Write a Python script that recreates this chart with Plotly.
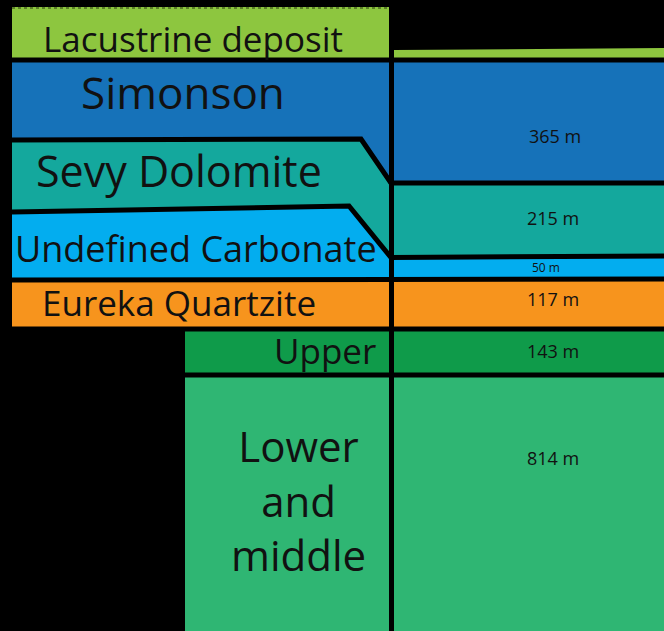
import plotly.graph_objects as go

# ---------------- data ----------------
formations = ["Lacustrine deposit", "Simonson", "Sevy Dolomite", "Undefined Carbonate",
              "Eureka Quartzite", "Upper", "Lower and middle"]
thickness_m = [None, 365, 215, 50, 117, 143, 814]
colors = ["#8dc63f", "#1672b9", "#14a89d", "#03adef", "#f7941d", "#0f9b4a", "#2fb673"]

# right (measured) column: top of each unit (drawing depth units), base of column
right_top_left = [50, 60, 183, 258, 280, 329, 375]
right_top_right = [48, 60, 183, 256, 279, 329, 375]
column_base = 631

# left (schematic) column outlines: x, y vertex lists per unit
left_x = [
    [12, 389, 389, 12],
    [12, 389, 389, 361, 12],
    [12, 361, 389, 389, 349, 12],
    [12, 349, 389, 389, 12],
    [12, 389, 389, 12],
    [185, 389, 389, 185],
    [185, 389, 389, 185],
]
left_y = [
    [7, 7, 60, 60],
    [60, 60, 184, 139, 140],
    [140, 139, 184, 258, 206, 212],
    [212, 206, 258, 280, 280],
    [280, 280, 329, 329],
    [329, 329, 375, 375],
    [375, 375, 631, 631],
]

# boundary lines (left part joined to the right column)
boundaries_x = [
    [12, 389], [394, 664],
    [12, 361, 391, 664],
    [12, 349, 391, 664],
    [12, 664],
    [12, 664],
    [185, 664],
]
boundaries_y = [
    [60, 60], [60, 60],
    [140, 139, 183, 183],
    [212, 206, 257.5, 256],
    [280, 279],
    [329, 329],
    [375, 375],
]

# label positions
left_label_text = ["Lacustrine deposit", "Simonson", "Sevy Dolomite", "Undefined Carbonate",
                   "Eureka Quartzite", "Upper", "Lower<br>and<br>middle"]
left_label_x = [193, 183, 179, 196, 179, 325, 298]
left_label_y = [38, 92, 170, 248, 302, 350, 500]
left_label_size = [35, 44, 43, 36, 35, 35, 42]
right_label_x = [None, 555, 553, 546, 553, 553, 553]
right_label_y = [None, 136, 218, 267, 299, 351, 458]
right_label_size = [None, 18, 18, 12, 18, 18, 18]

# ---------------- figure ----------------
fig = go.Figure()

# right column fills
for i, name in enumerate(formations):
    top_l, top_r = right_top_left[i], right_top_right[i]
    if i + 1 < len(formations):
        bot_l, bot_r = right_top_left[i + 1], right_top_right[i + 1]
    else:
        bot_l = bot_r = column_base
    fig.add_trace(go.Scatter(
        x=[394, 664, 664, 394], y=[top_l, top_r, bot_r, bot_l],
        fill="toself", fillcolor=colors[i], mode="lines",
        line=dict(width=0, color=colors[i]), hoverinfo="skip", showlegend=False))

# left column fills
for i, name in enumerate(formations):
    fig.add_trace(go.Scatter(
        x=left_x[i], y=left_y[i], fill="toself", fillcolor=colors[i], mode="lines",
        line=dict(width=0, color=colors[i]), hoverinfo="skip", showlegend=False))

# boundary lines
for bx, by in zip(boundaries_x, boundaries_y):
    fig.add_trace(go.Scatter(x=bx, y=by, mode="lines",
                             line=dict(color="black", width=5),
                             hoverinfo="skip", showlegend=False))

# dashed top of lacustrine deposit
fig.add_trace(go.Scatter(x=[12, 389], y=[8, 8], mode="lines",
                         line=dict(color="#2a3a10", width=1, dash="dot"),
                         hoverinfo="skip", showlegend=False))

# vertical divider
fig.add_trace(go.Scatter(x=[391.5, 391.5], y=[7, 631], mode="lines",
                         line=dict(color="black", width=5),
                         hoverinfo="skip", showlegend=False))

annotations = []
for i in range(len(formations)):
    annotations.append(dict(
        x=left_label_x[i], y=left_label_y[i], text=left_label_text[i],
        showarrow=False, xanchor="center", yanchor="middle",
        font=dict(family="Open Sans", size=left_label_size[i], color="#111111"),
        align="center"))
    if thickness_m[i] is not None:
        annotations.append(dict(
            x=right_label_x[i], y=right_label_y[i], text=f"{thickness_m[i]} m",
            showarrow=False, xanchor="center", yanchor="middle",
            font=dict(family="Open Sans", size=right_label_size[i], color="#111111")))

fig.update_layout(
    width=664, height=631,
    margin=dict(l=0, r=0, t=0, b=0),
    paper_bgcolor="black", plot_bgcolor="black",
    xaxis=dict(range=[0, 664], visible=False, fixedrange=True),
    yaxis=dict(range=[631, 0], visible=False, fixedrange=True),
    annotations=annotations,
)

fig.write_html(
    "out.html",
    config={"displayModeBar": False},
    post_script="document.body.style.margin='0';document.body.style.overflow='hidden';"
                "document.body.style.background='black';",
)
